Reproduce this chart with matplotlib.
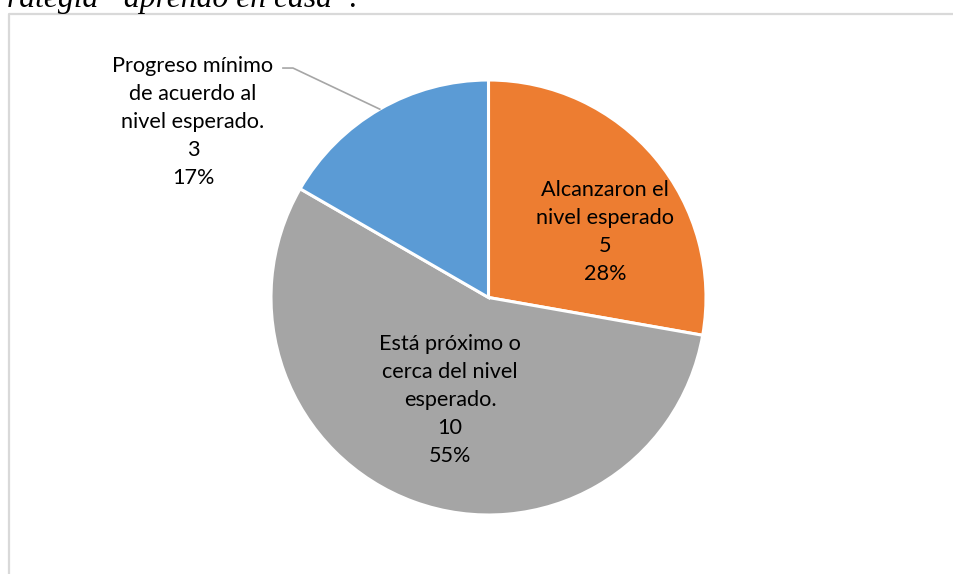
import matplotlib
matplotlib.use("Agg")
import matplotlib.pyplot as plt
import numpy as np

categories = ["Alcanzaron el\nnivel esperado",
              "Está próximo o\ncerca del nivel\nesperado.",
              "Progreso mínimo\nde acuerdo al\nnivel esperado."]
values = [5, 10, 3]
pct_labels = ["28%", "55%", "17%"]
colors = ["#ED7D31", "#A5A5A5", "#5B9BD5"]

W, H = 954, 574
fig = plt.figure(figsize=(W / 100, H / 100), dpi=100)

# chart frame (light gray, runs off the right/bottom edges)
frame = fig.add_axes([0, 0, 1, 1])
frame.set_xlim(0, W)
frame.set_ylim(H, 0)
frame.axis("off")
frame.plot([9.5, 9.5, W + 5], [H + 5, 13.5, 13.5], color="#D9D9D9", lw=1.6)

# caption cut off at the top of the crop
frame.text(358, 7.5, "rategia “aprendo en casa”.", family="Liberation Serif",
           style="italic", fontsize=22.8, va="baseline", ha="right")

# pie axes: center (488.5, 297.5) px, radius 217.5 px
cx, cy, r = 488.5, 297.5, 217.5
ax = fig.add_axes([(cx - r) / W, (H - cy - r) / H, 2 * r / W, 2 * r / H])
wedges, _ = ax.pie(values, colors=colors, startangle=90, counterclock=False,
                   radius=1, wedgeprops=dict(edgecolor="white", linewidth=2.2))
ax.set_xlim(-1, 1)
ax.set_ylim(-1, 1)
ax.set_aspect("equal")

font = dict(family="Lato", fontsize=15.6, ha="center", va="center",
            linespacing=1.5, color="#000000")

# orange and gray labels inside the slices
ax.text(0.536, 0.300, f"{categories[0]}\n{values[0]}\n{pct_labels[0]}", **font)
ax.text(-0.177, -0.471, f"{categories[1]}\n{values[1]}\n{pct_labels[1]}", **font)

# blue label outside with a leader line
ax.text(-1.359, 0.807, f"{categories[2]}\n{values[2]}\n{pct_labels[2]}",
        **font)
w = wedges[2]
mid = np.deg2rad((w.theta1 + w.theta2) / 2)
ax.plot([-0.945, -0.899, np.cos(mid)], [1.055, 1.055, np.sin(mid)],
        color="#A6A6A6", lw=1.2, clip_on=False)

fig.savefig("out.png", dpi=100)
